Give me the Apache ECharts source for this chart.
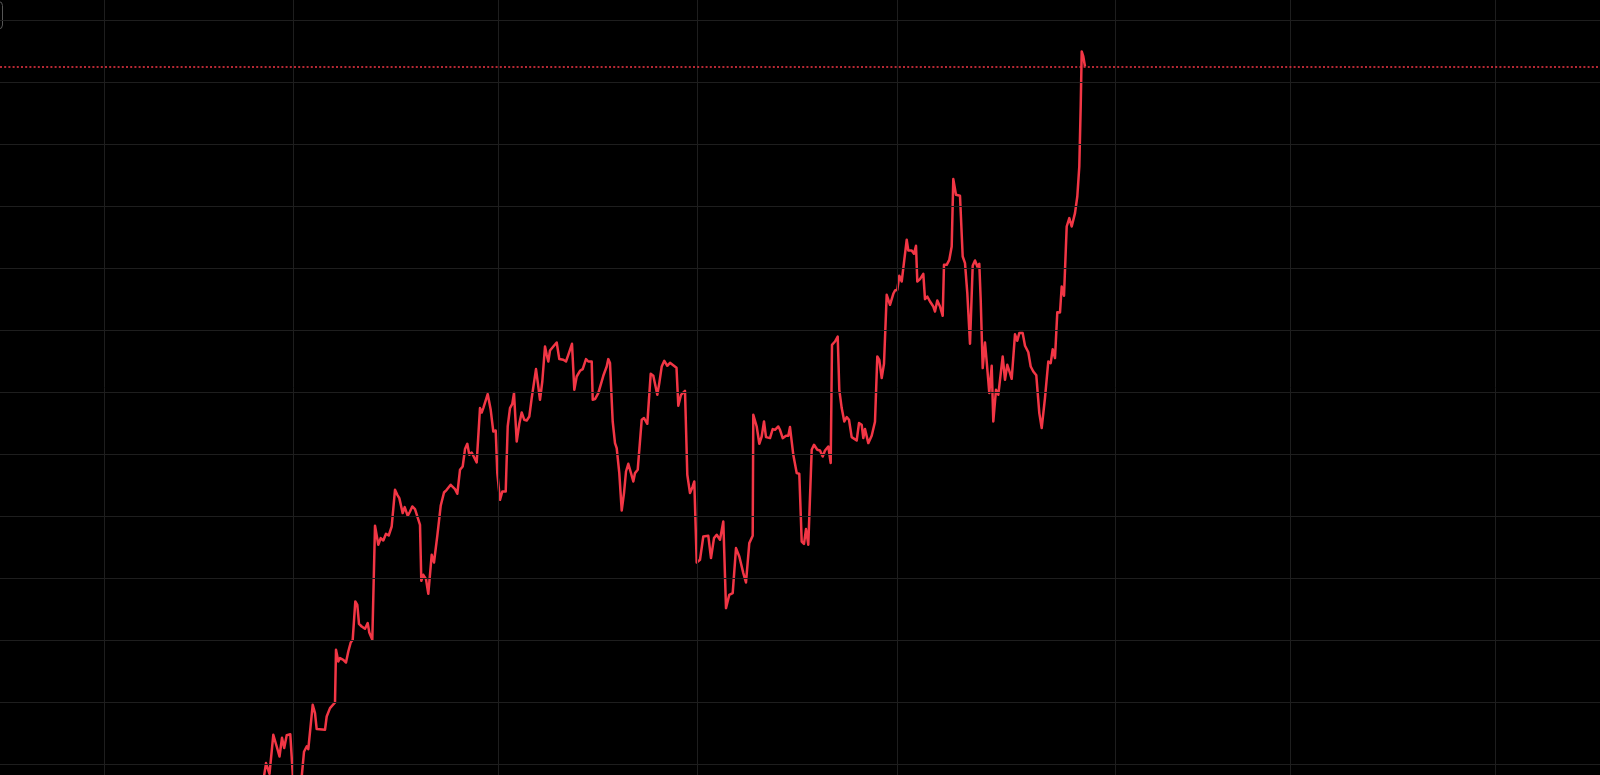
<!DOCTYPE html>
<html>
<head>
<meta charset="utf-8">
<script src="https://cdn.jsdelivr.net/npm/echarts@6/dist/echarts.min.js"></script>
<style>
html,body{margin:0;padding:0;background:#000;}
#chart{width:1600px;height:775px;}
</style>
</head>
<body>
<div id="chart"></div>
<script>
// session index (time) and price
const days = [26.2,26.6,26.95,27.33,27.67,27.95,28.2,28.42,28.67,29.03,29.4,30.05,30.4,30.68,30.83,31.27,31.5,31.67,32.5,32.67,33.0,33.5,33.6,33.83,34.0,34.33,34.6,34.83,35.07,35.27,35.53,35.73,35.9,36.17,36.5,36.77,36.93,37.23,37.5,37.83,38.07,38.33,38.6,38.87,39.17,39.5,39.73,39.93,40.1,40.27,40.47,40.77,41.0,41.23,41.5,42.0,42.13,42.33,42.6,42.83,43.17,43.4,43.73,44.07,44.4,44.67,45.07,45.5,45.73,46.0,46.27,46.5,46.73,46.93,47.17,47.67,48.0,48.17,48.33,48.77,49.07,49.33,49.57,49.73,50.0,50.23,50.4,50.57,50.77,51.0,51.23,51.4,51.67,51.93,52.17,52.43,52.67,52.93,53.17,53.33,53.6,53.83,54.0,54.23,54.5,54.67,54.83,55.0,55.33,55.67,55.93,56.33,56.6,56.83,57.2,57.43,57.67,58.0,58.27,58.6,58.83,59.17,59.27,59.5,59.83,60.33,60.67,60.83,61.0,61.27,61.5,61.67,61.93,62.17,62.4,62.6,62.83,63.1,63.33,63.5,63.77,64.17,64.4,64.73,65.07,65.33,65.5,65.73,65.93,66.17,66.43,66.73,67.0,67.65,67.83,68.1,68.5,68.73,69.0,69.27,69.43,69.67,70.0,70.33,70.83,71.1,71.4,71.67,72.0,72.33,72.6,72.93,73.27,73.6,73.93,74.33,74.6,74.93,75.27,75.33,75.67,75.93,76.17,76.4,76.6,77.0,77.27,77.5,77.83,78.0,78.27,78.6,78.83,79.0,79.33,79.67,79.93,80.17,80.4,80.6,80.83,81.17,81.4,81.73,82.0,82.27,82.5,82.83,83.07,83.2,83.5,83.77,83.93,84.17,84.43,84.67,84.9,85.17,85.67,85.9,86.17,86.33,86.5,86.83,87.17,87.5,87.73,87.93,88.17,88.4,88.67,89.0,89.33,89.5,89.73,89.93,90.17,90.33,90.67,90.83,91.17,91.4,91.6,91.73,92.0,92.33,92.5,92.73,93.0,93.33,93.5,93.73,94.0,94.27,94.4,94.67,94.93,95.17,95.33,95.6,96.0,96.27,96.5,96.73,97.0,97.27,97.5,97.73,97.93,98.07,98.27,98.5,98.67,98.93,99.17,99.33,99.6,99.83,100.0,100.27,100.5,100.73,101.0,101.17,101.5,101.73,101.93,102.27,102.5,102.83,103.07,103.33,103.63,103.93,104.17,104.5,104.83,105.07,105.27,105.5,105.73,106.0,106.17,106.4,106.67,106.93,107.17,107.5,107.73,107.93,108.07,108.17,108.33,108.5];
const price = [3.67,6.34,5.27,9.17,8.00,7.00,8.87,7.84,9.12,9.22,3.17,3.67,7.47,8.02,7.74,12.17,11.34,9.74,9.67,11.00,11.84,12.40,17.67,16.50,16.84,16.67,16.40,17.50,18.40,18.67,22.50,22.17,20.27,20.00,19.77,20.34,19.40,18.67,30.07,28.17,28.84,28.60,29.27,29.10,30.00,33.67,33.17,32.84,32.74,31.34,31.94,31.07,31.50,32.00,31.74,30.17,24.57,25.17,24.74,23.27,27.17,26.40,29.07,32.07,33.40,33.67,34.17,33.74,33.27,35.67,36.00,37.74,38.27,37.17,37.40,36.40,41.84,41.40,41.84,43.24,41.67,39.50,39.60,35.34,32.67,33.50,33.67,33.50,40.00,41.84,42.27,43.34,38.50,40.27,41.40,40.67,40.60,41.00,42.84,42.67,45.74,44.00,42.67,44.50,48.00,47.17,46.50,47.60,48.00,48.40,46.74,46.67,46.50,47.17,48.27,43.67,45.00,45.57,45.74,46.74,46.50,46.50,42.67,42.74,43.34,45.07,46.00,46.74,46.34,40.50,38.34,37.84,35.34,31.60,33.34,35.50,36.27,35.34,34.50,35.34,35.67,40.67,40.84,40.27,45.27,45.07,45.00,43.17,44.34,46.00,46.57,46.07,46.37,45.87,42.07,43.17,43.57,35.17,33.34,34.00,34.50,26.40,26.67,29.00,29.07,26.84,28.84,29.17,28.67,30.50,21.84,23.17,23.34,27.84,27.00,25.34,24.40,28.34,29.07,41.17,40.00,38.27,39.00,40.50,38.94,38.84,39.74,39.67,40.00,39.67,38.84,39.07,39.07,39.94,37.17,35.34,35.27,28.50,28.27,29.74,28.17,37.67,38.17,37.67,37.60,37.00,37.60,38.00,36.34,48.17,48.50,49.00,43.67,41.84,40.50,40.94,40.67,38.94,38.60,40.34,40.17,38.84,39.74,38.34,39.07,40.47,47.00,46.67,44.84,46.27,53.17,52.17,53.27,53.60,53.67,55.07,54.50,54.50,58.67,57.60,57.60,57.27,58.07,54.50,54.74,55.27,52.74,53.00,52.50,52.00,51.50,52.60,52.00,51.07,56.17,56.17,56.67,58.00,64.74,63.17,63.07,57.00,56.34,53.34,48.27,56.07,56.60,56.00,56.27,52.67,45.84,48.40,46.50,43.34,46.07,40.50,43.67,43.17,44.67,47.00,44.67,46.17,45.34,44.77,49.22,48.57,49.34,49.34,48.07,47.42,46.00,45.50,45.12,41.34,39.84,42.87,46.50,46.34,47.72,46.84,51.42,51.40,54.00,53.07,60.00,60.84,60.00,61.34,63.00,66.00,72.00,77.50,77.00,76.00];
// grid levels (price), vertical grid (period boundaries) and last price
const priceTicks = [6.2, 12.4, 18.6, 24.8, 31.0, 37.2, 43.4, 49.6, 55.8, 62.0, 68.2, 74.4, 80.6];
const periodTicks = [10.45, 29.35, 49.85, 69.75, 89.75, 111.55, 129.05, 149.55];
const lastPrice = 76.0;

const chart = echarts.init(document.getElementById('chart'), null, {renderer: 'canvas'});
const gridColor = '#1e1e1e';
const lineColor = '#f23645';

const gridLines = periodTicks.map(v => ({xAxis: v})).concat(priceTicks.map(v => ({yAxis: v})));

chart.setOption({
  backgroundColor: '#000000',
  animation: false,
  grid: {left: 0, right: 0, top: 0, bottom: 0, containLabel: false},
  xAxis: {
    type: 'value', min: 0, max: 160,
    axisLine: {show: false}, axisTick: {show: false}, axisLabel: {show: false},
    splitLine: {show: false}
  },
  yAxis: {
    type: 'value', min: 5.15, max: 82.65,
    axisLine: {show: false}, axisTick: {show: false}, axisLabel: {show: false},
    splitLine: {show: false}
  },
  series: [
    {
      type: 'line',
      data: [],
      silent: true,
      markLine: {
        silent: true,
        symbol: ['none', 'none'],
        label: {show: false},
        lineStyle: {color: gridColor, width: 1, type: 'solid'},
        emphasis: {disabled: true},
        data: gridLines
      }
    },
    {
      type: 'line',
      data: days.map((d, i) => [d, price[i]]),
      showSymbol: false,
      symbol: 'none',
      smooth: false,
      clip: true,
      lineStyle: {color: lineColor, width: 2.5, join: 'round'},
      markLine: {
        silent: true,
        symbol: ['none', 'none'],
        label: {show: false},
        lineStyle: {color: lineColor, width: 1.6, type: [2, 2.2], opacity: 1},
        emphasis: {disabled: true},
        data: [{yAxis: lastPrice}]
      }
    }
  ],
  graphic: [{
    type: 'rect',
    silent: true,
    shape: {x: -20, y: 1.5, width: 22.5, height: 27.5, r: 4},
    style: {fill: 'none', stroke: '#555555', lineWidth: 1}
  }]
});
</script>
</body>
</html>
